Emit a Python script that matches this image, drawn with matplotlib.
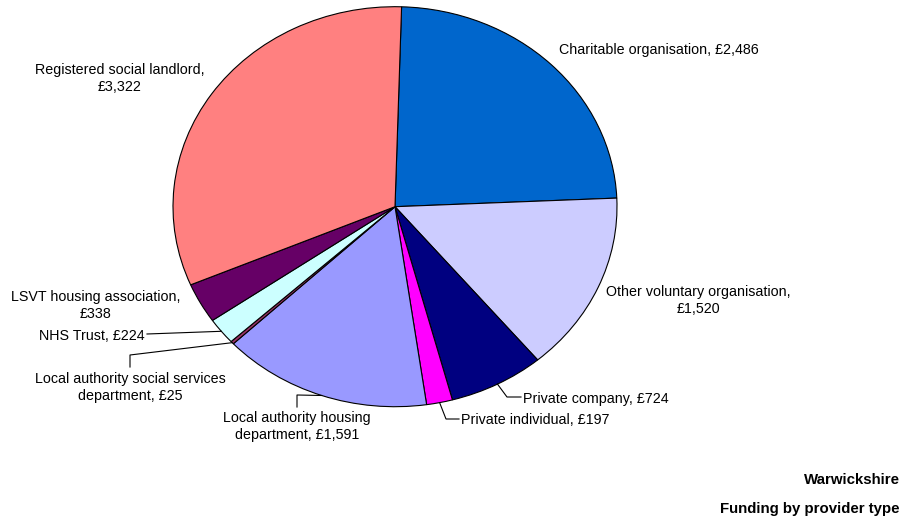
import numpy as np
import matplotlib
matplotlib.use("Agg")
import matplotlib.pyplot as plt

plt.rcParams["font.family"] = ["Liberation Sans", "DejaVu Sans"]

PROVIDERS = [
    "Charitable organisation",
    "Other voluntary organisation",
    "Private company",
    "Private individual",
    "Local authority housing department",
    "Local authority social services department",
    "NHS Trust",
    "LSVT housing association",
    "Registered social landlord",
]
FUNDING = [2486, 1520, 724, 197, 1591, 25, 224, 338, 3322]
COLOURS = ["#0066CC", "#CCCCFF", "#000080", "#FF00FF", "#9999FF",
           "#993366", "#CCFFFF", "#660066", "#FF8080"]
LABELS = [
    "Charitable organisation, £2,486",
    "Other voluntary organisation,\n£1,520",
    "Private company, £724",
    "Private individual, £197",
    "Local authority housing\ndepartment, £1,591",
    "Local authority social services\ndepartment, £25",
    "NHS Trust, £224",
    "LSVT housing association,\n£338",
    "Registered social landlord,\n£3,322",
]
START_ANGLE = 88.3

W, H = 906, 517
CX, CY, RX, RY = 395.0, 206.7, 222.0, 200.0
TEXT_DY = 1.5  # va="center" sits a little high against the reference


def to_data(px, py):
    """Convert image pixel position (top-left origin) to pie data coords."""
    return (px - CX) / RX, (CY - py) / RY


fig = plt.figure(figsize=(W / 100, H / 100), dpi=100)
ax = fig.add_axes([(CX - RX) / W, (H - CY - RY) / H, 2 * RX / W, 2 * RY / H])
wedges, _ = ax.pie(
    FUNDING,
    colors=COLOURS,
    startangle=START_ANGLE,
    counterclock=False,
    wedgeprops={"edgecolor": "black", "linewidth": 0.8},
)
ax.set_aspect("auto")
ax.set_xlim(-1, 1)
ax.set_ylim(-1, 1)
ax.axis("off")

# anchor point on the rim at each wedge's mid angle
total = float(sum(FUNDING))
cum = np.cumsum([0] + FUNDING[:-1])
mid_angles = np.deg2rad(START_ANGLE - (cum + np.array(FUNDING) / 2) / total * 360)
anchors = [(np.cos(a), np.sin(a)) for a in mid_angles]

# label layout: (text x px, text y px, ha, leader path in px or None)
layout = [
    (559, 48, "left", None),
    (698, 299, "center", None),
    (523, 397, "left", [(507, 397), (521, 397)]),
    (461, 419, "left", [(446, 419), (459, 419)]),
    (297, 425, "center", [(297, 395), (297, 407)]),
    (130, 386, "center", [(130, 355), (130, 367)]),
    (145, 334, "right", [(147, 334)]),
    (96, 304, "center", None),
    (120, 77, "center", None),
]

for anchor, label, (tx, ty, ha, path) in zip(anchors, LABELS, layout):
    x, y = to_data(tx, ty + TEXT_DY)
    ax.text(x, y, label, ha=ha, va="center", fontsize=10.3,
            linespacing=1.22, clip_on=False)
    if path:
        pts = [anchor] + [to_data(px, py) for px, py in path]
        xs, ys = zip(*pts)
        ax.plot(xs, ys, color="black", linewidth=0.8, clip_on=False)

fig.text(900 / W, 1 - (478 + TEXT_DY) / H, "Warwickshire", ha="right",
         va="center", fontsize=10.8, fontweight="bold")
fig.text(900 / W, 1 - (507 + TEXT_DY) / H, "Funding by provider type",
         ha="right", va="center", fontsize=10.8, fontweight="bold")

fig.savefig("out.png", dpi=100)
